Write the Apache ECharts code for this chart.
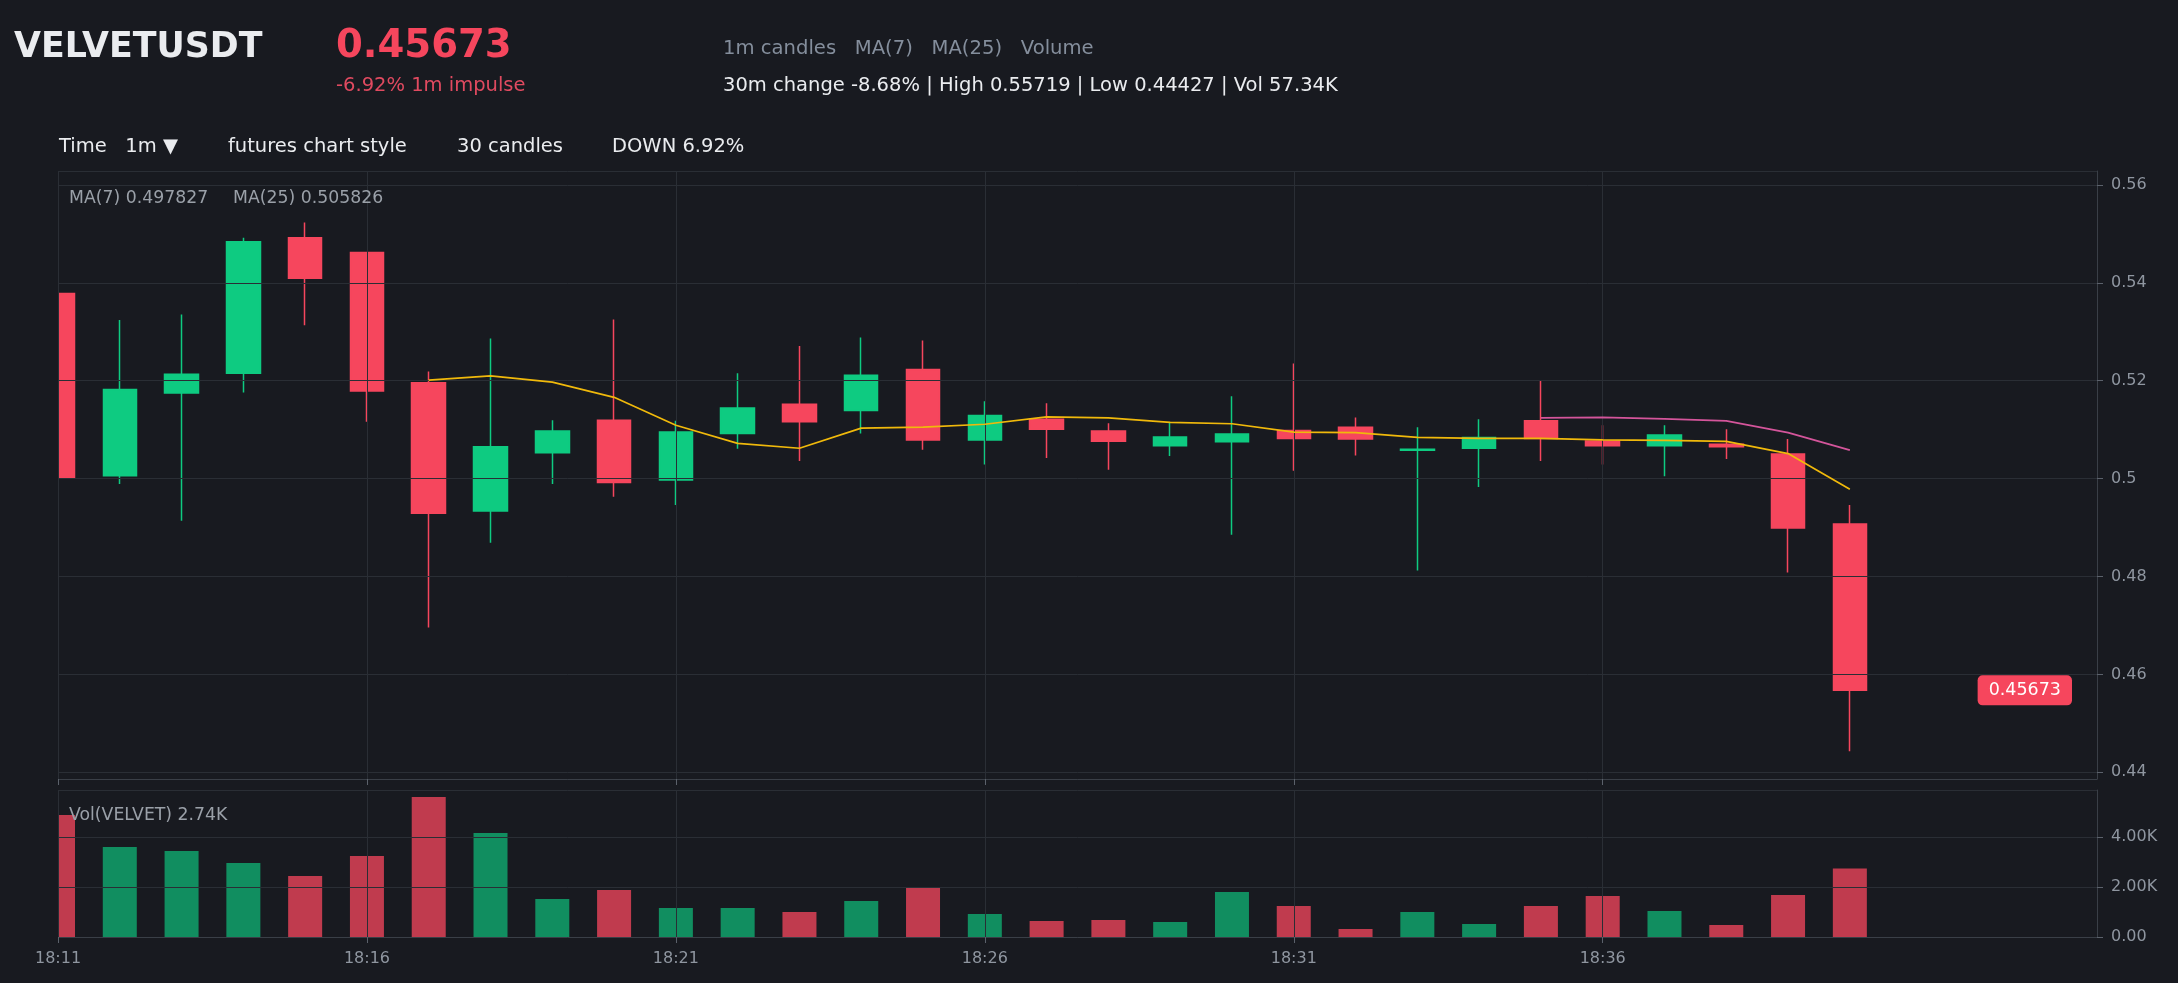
<!DOCTYPE html>
<html>
<head>
<meta charset="utf-8">
<title>VELVETUSDT 1m</title>
<script src="https://cdn.jsdelivr.net/npm/echarts@6/dist/echarts.min.js"></script>
<style>
  html, body { margin: 0; padding: 0; background: #181a20; }
  #chart { width: 2178px; height: 983px; }
</style>
</head>
<body>
<div id="chart"></div>
<script>
const symbol = 'VELVETUSDT';
const lastPrice = 0.45673;
// 30m high / low, the price axis is padded around them
const rangeHigh = 0.55719;
const rangeLow = 0.44427;

const times = [
  '18:11', '18:12', '18:13', '18:14', '18:15', '18:16', '18:17', '18:18', '18:19', '18:20',
  '18:21', '18:22', '18:23', '18:24', '18:25', '18:26', '18:27', '18:28', '18:29', '18:30',
  '18:31', '18:32', '18:33', '18:34', '18:35', '18:36', '18:37', '18:38', '18:39', '18:40',
];
const opens = [
  0.5378, 0.5006, 0.5175, 0.5215, 0.5492, 0.5462, 0.5196, 0.4934, 0.5053, 0.5119,
  0.4997, 0.5092, 0.5152, 0.5139, 0.5223, 0.5079, 0.5121, 0.5097, 0.5067, 0.5075,
  0.5098, 0.5105, 0.5058, 0.5062, 0.5118, 0.5077, 0.5067, 0.5070, 0.5050, 0.4907,
];
const closes = [
  0.5002, 0.5182, 0.5213, 0.5484, 0.5409, 0.5179, 0.4929, 0.5065, 0.5097, 0.4992,
  0.5095, 0.5144, 0.5116, 0.5211, 0.5079, 0.5129, 0.5101, 0.5076, 0.5085, 0.5091,
  0.5082, 0.5081, 0.5060, 0.5084, 0.5082, 0.5067, 0.5089, 0.5065, 0.4899, 0.45673,
];
const lows = [
  0.4924, 0.4989, 0.4914, 0.5176, 0.5313, 0.5116, 0.4696, 0.4869, 0.4989, 0.4963,
  0.4946, 0.5061, 0.5036, 0.5092, 0.5059, 0.5029, 0.5042, 0.5018, 0.5046, 0.4885,
  0.5016, 0.5047, 0.4812, 0.4983, 0.5036, 0.5029, 0.5005, 0.5040, 0.4808, 0.44427,
];
const highs = [
  0.5402, 0.5324, 0.5335, 0.5492, 0.5523, 0.5462, 0.5219, 0.5286, 0.5119, 0.5325,
  0.5118, 0.5215, 0.5271, 0.5288, 0.5282, 0.5158, 0.5154, 0.5113, 0.5114, 0.5168,
  0.5235, 0.5125, 0.5105, 0.5121, 0.5201, 0.5109, 0.5109, 0.5101, 0.5081, 0.4946,
];
const volumes = [
  4880, 3600, 3440, 2960, 2440, 3240, 5600, 4160, 1520, 1880,
  1160, 1160, 1000, 1440, 1960, 920, 640, 680, 600, 1800,
  1240, 320, 1000, 520, 1240, 1640, 1040, 480, 1680, 2740,
];
const ma7 = [
  null, null, null, null, null, null, 0.5201, 0.5210, 0.5197, 0.5166,
  0.5109, 0.5072, 0.5062, 0.5103, 0.5105, 0.5111, 0.5126, 0.5124, 0.5115, 0.5112,
  0.5095, 0.5094, 0.5084, 0.5082, 0.5082, 0.5079, 0.5078, 0.5076, 0.5051, 0.4978,
];
const ma25 = [
  null, null, null, null, null, null, null, null, null, null,
  null, null, null, null, null, null, null, null, null, null,
  null, null, null, null, 0.5124, 0.5125, 0.5122, 0.5118, 0.5094, 0.5058,
];
// empty minutes kept on the right of the last candle
const padSlots = 4;

const BG = '#181a20';
const UP = '#0ecb81';
const DOWN = '#f6465d';
const VOL_UP = 'rgba(14, 203, 129, 0.66)';
const VOL_DOWN = 'rgba(246, 70, 93, 0.76)';
const GRID_LINE = '#2a2e35';
const AXIS_LINE = '#3a3f47';
const LABEL = '#8f96a0';
const FONT = '"DejaVu Sans"';

const GRID_LEFT = 58;
const GRID_RIGHT = 81;

const categories = times.concat(new Array(padSlots).fill(''));
const every5 = (idx, val) => val !== '' && idx % 5 === 0;
const pad = (rangeHigh - rangeLow) * 0.05;
const volMax = Math.max(...volumes) * 1.05;

const txt = (x, y, text, size, fill, weight) => ({
  type: 'text', x, y, silent: true, z: 10,
  style: {
    text, fill,
    font: `${weight || 'normal'} ${size}px ${FONT}`,
    verticalAlign: 'middle',
  },
});

const chart = echarts.init(document.getElementById('chart'));

const graphics = [
  // the first candle sits on the left edge: hide the half outside the plot
  {
    type: 'rect', silent: true, z: 5,
    shape: { x: 0, y: 160, width: GRID_LEFT, height: 785 },
    style: { fill: BG },
  },
  txt(14, 48, symbol, 34.8, '#eaecef', 'bold'),
  txt(336, 46.5, lastPrice.toFixed(5), 38.6, DOWN, 'bold'),
  txt(336, 86, '-6.92% 1m impulse', 19.5, '#e04a60'),
  txt(723, 48.5, '1m candles   MA(7)   MA(25)   Volume', 19.6, '#848e9c'),
  txt(723, 86, '30m change -8.68% | High 0.55719 | Low 0.44427 | Vol 57.34K', 19.5, '#eaecef'),
  txt(59, 147, 'Time   1m \u25BC', 19.5, '#eaecef'),
  txt(228, 147, 'futures chart style', 19.5, '#eaecef'),
  txt(457, 147, '30 candles', 19.5, '#eaecef'),
  txt(612, 147, 'DOWN 6.92%', 19.5, '#eaecef'),
  txt(69, 199, 'MA(7) 0.497827', 17.3, '#9aa0a8'),
  txt(233, 199, 'MA(25) 0.505826', 17.3, '#9aa0a8'),
  txt(69, 816, 'Vol(VELVET) 2.74K', 17.3, '#9aa0a8'),
];

const option = {
  backgroundColor: BG,
  animation: false,
  textStyle: { fontFamily: 'DejaVu Sans' },
  graphic: graphics,
  grid: [
    { left: GRID_LEFT, right: GRID_RIGHT, top: 171, height: 608, outerBoundsMode: 'none' },
    { left: GRID_LEFT, right: GRID_RIGHT, top: 790, height: 147, outerBoundsMode: 'none' },
  ],
  xAxis: [
    {
      type: 'category', gridIndex: 0, data: categories, boundaryGap: false,
      axisLine: { show: true, lineStyle: { color: AXIS_LINE } },
      axisTick: { show: true, interval: every5, length: 6, lineStyle: { color: '#5b616b' } },
      axisLabel: { show: false },
      splitLine: { show: true, interval: every5, lineStyle: { color: GRID_LINE } },
    },
    {
      type: 'category', gridIndex: 1, data: categories, boundaryGap: false,
      axisLine: { show: true, lineStyle: { color: AXIS_LINE } },
      axisTick: { show: true, interval: every5, length: 6, lineStyle: { color: '#5b616b' } },
      axisLabel: {
        show: true, interval: every5, color: LABEL, fontSize: 16, margin: 14,
        fontFamily: 'DejaVu Sans',
      },
      splitLine: { show: true, interval: every5, lineStyle: { color: GRID_LINE } },
    },
  ],
  yAxis: [
    {
      type: 'value', gridIndex: 0, position: 'right', scale: true,
      min: rangeLow - pad, max: rangeHigh + pad, splitNumber: 5,
      axisLine: { show: true, lineStyle: { color: AXIS_LINE } },
      axisTick: { show: true, length: 6, lineStyle: { color: '#5b616b' } },
      axisLabel: {
        color: LABEL, fontSize: 16, margin: 14, fontFamily: 'DejaVu Sans',
        showMinLabel: false, showMaxLabel: false,
      },
      splitLine: { show: true, lineStyle: { color: GRID_LINE } },
    },
    {
      type: 'value', gridIndex: 1, position: 'right',
      min: 0, max: volMax, interval: 2000,
      axisLine: { show: true, lineStyle: { color: AXIS_LINE } },
      axisTick: { show: true, length: 6, lineStyle: { color: '#5b616b' } },
      axisLabel: {
        color: LABEL, fontSize: 16, margin: 14, fontFamily: 'DejaVu Sans',
        showMaxLabel: false,
        formatter: v => (v === 0 ? '0.00' : (v / 1000).toFixed(2) + 'K'),
      },
      splitLine: { show: true, lineStyle: { color: GRID_LINE } },
    },
  ],
  series: [
    {
      name: 'price',
      type: 'candlestick',
      xAxisIndex: 0, yAxisIndex: 0,
      z: -1,
      barWidth: 34,
      data: times.map((t, i) => [opens[i], closes[i], lows[i], highs[i]]),
      itemStyle: {
        color: UP, color0: DOWN,
        borderColor: UP, borderColor0: DOWN,
        borderWidth: 1.5,
      },
    },
    {
      name: 'MA(7)',
      type: 'line',
      xAxisIndex: 0, yAxisIndex: 0,
      data: ma7,
      symbol: 'none',
      lineStyle: { color: '#f0b90b', width: 1.7 },
    },
    {
      name: 'MA(25)',
      type: 'line',
      xAxisIndex: 0, yAxisIndex: 0,
      data: ma25,
      symbol: 'none',
      lineStyle: { color: '#d4559b', width: 1.7 },
    },
    {
      name: 'Volume',
      type: 'bar',
      xAxisIndex: 1, yAxisIndex: 1,
      z: -1,
      barWidth: 34,
      data: volumes.map((v, i) => ({
        value: v,
        itemStyle: { color: closes[i] >= opens[i] ? VOL_UP : VOL_DOWN },
      })),
    },
  ],
};

chart.setOption(option);

// last price tag, placed on the price scale at the right end of the plot
const lastY = chart.convertToPixel({ yAxisIndex: 0 }, lastPrice);
const plotRight = chart.getWidth() - GRID_RIGHT;
graphics.push({
  type: 'text', silent: true, z: 10,
  x: plotRight - 25, y: lastY,
  style: {
    text: lastPrice.toFixed(5),
    fill: '#ffffff',
    font: `17.5px ${FONT}`,
    align: 'right',
    verticalAlign: 'middle',
    backgroundColor: DOWN,
    borderRadius: 5,
    padding: [6, 11],
  },
});
chart.setOption({ graphic: graphics });
</script>
</body>
</html>
